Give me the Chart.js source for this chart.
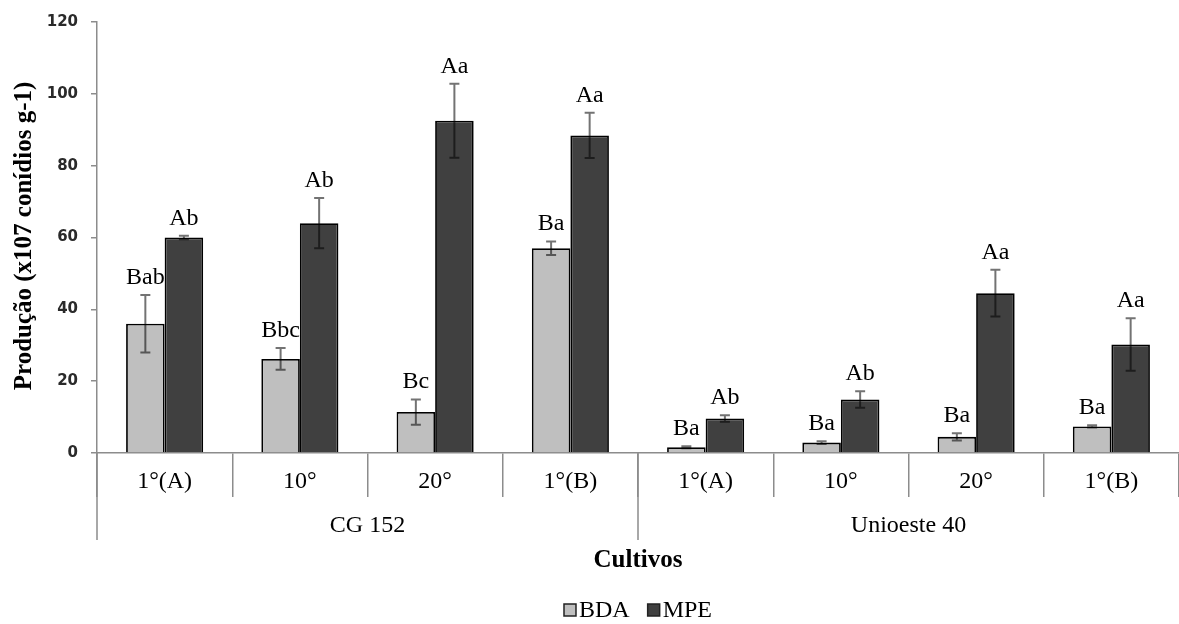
<!DOCTYPE html>
<html>
<head>
<meta charset="utf-8">
<script src="https://cdn.jsdelivr.net/npm/chart.js@4.4.1/dist/chart.umd.min.js"></script>
<style>
  html, body { margin: 0; padding: 0; background: #fff; }
  #wrap { width: 1179px; height: 624px; }
</style>
</head>
<body>
<div id="wrap"><canvas id="c" width="1179" height="624"></canvas></div>
<script>
// Conidia production per culture passage, two isolates, two media
const categories = ['1°(A)', '10°', '20°', '1°(B)', '1°(A)', '10°', '20°', '1°(B)'];
const groups = ['CG 152', 'Unioeste 40'];
const groupSize = 4;

const bda = [36, 26.2, 11.4, 57, 1.6, 2.9, 4.5, 7.4];
const bdaErr = [8, 3, 3.5, 1.9, 0.3, 0.4, 1, 0.3];
const bdaLetters = ['Bab', 'Bbc', 'Bc', 'Ba', 'Ba', 'Ba', 'Ba', 'Ba'];

const mpe = [60, 64, 92.5, 88.4, 9.6, 14.9, 44.5, 30.2];
const mpeErr = [0.5, 7, 10.3, 6.3, 0.9, 2.3, 6.5, 7.3];
const mpeLetters = ['Ab', 'Ab', 'Aa', 'Aa', 'Ab', 'Ab', 'Aa', 'Aa'];

const yTicks = { min: 0, max: 120, step: 20 };

const serif = '"Liberation Serif", "Times New Roman", serif';
const axisGray = '#8c8c8c';

const seriesInfo = [
  { name: 'BDA', values: bda, errs: bdaErr, letters: bdaLetters, color: '#bfbfbf' },
  { name: 'MPE', values: mpe, errs: mpeErr, letters: mpeLetters, color: '#404040' }
];

const decorations = {
  id: 'decorations',
  afterDatasetsDraw(chart) {
    const ctx = chart.ctx;
    const ys = chart.scales.y;
    seriesInfo.forEach((s, di) => {
      const meta = chart.getDatasetMeta(di);
      meta.data.forEach((bar, i) => {
        const x = bar.x;
        const yTop = ys.getPixelForValue(s.values[i] + s.errs[i]);
        const yBot = ys.getPixelForValue(s.values[i] - s.errs[i]);
        ctx.save();
        // error bar
        ctx.strokeStyle = 'rgba(0,0,0,0.55)';
        ctx.lineWidth = 2;
        ctx.beginPath();
        ctx.moveTo(x, yTop); ctx.lineTo(x, yBot);
        ctx.moveTo(x - 5, yTop); ctx.lineTo(x + 5, yTop);
        ctx.moveTo(x - 5, yBot); ctx.lineTo(x + 5, yBot);
        ctx.stroke();
        // significance letters
        ctx.fillStyle = '#000';
        ctx.font = '24px ' + serif;
        ctx.textAlign = 'center';
        ctx.textBaseline = 'alphabetic';
        ctx.fillText(s.letters[i], x, yTop - 11);
        ctx.restore();
      });
    });
  },
  afterDraw(chart) {
    const ctx = chart.ctx;
    const area = chart.chartArea;
    const xs = chart.scales.x;
    const bottom = area.bottom;
    ctx.save();

    // group separators and group labels
    const edges = [area.left];
    for (let g = 1; g < groups.length; g++) {
      edges.push((xs.getPixelForTick(g * groupSize - 1) + xs.getPixelForTick(g * groupSize)) / 2);
    }
    edges.push(area.right);
    ctx.strokeStyle = axisGray;
    ctx.lineWidth = 1.5;
    ctx.beginPath();
    for (let g = 0; g < groups.length; g++) {
      ctx.moveTo(edges[g], bottom);
      ctx.lineTo(edges[g], bottom + 87);
    }
    ctx.stroke();

    ctx.fillStyle = '#000';
    ctx.font = '24px ' + serif;
    ctx.textAlign = 'center';
    ctx.textBaseline = 'middle';
    groups.forEach((g, i) => {
      ctx.fillText(g, (edges[i] + edges[i + 1]) / 2, bottom + 73);
    });

    // axis titles
    ctx.font = 'bold 25px ' + serif;
    ctx.fillText('Cultivos', (area.left + area.right) / 2, 561);
    ctx.save();
    ctx.translate(25, 236);
    ctx.rotate(-Math.PI / 2);
    ctx.fillText('Produção (x107 conídios g-1)', 0, 0);
    ctx.restore();

    // legend
    ctx.font = '24px ' + serif;
    ctx.textAlign = 'left';
    ctx.textBaseline = 'middle';
    const box = 12, gapText = 3, gapItem = 18;
    const widths = seriesInfo.map(s => box + gapText + ctx.measureText(s.name).width);
    const total = widths.reduce((a, b) => a + b, 0) + gapItem * (seriesInfo.length - 1);
    let lx = (area.left + area.right) / 2 - total / 2;
    const ly = 610;
    seriesInfo.forEach((s, i) => {
      ctx.fillStyle = s.color;
      ctx.fillRect(lx, ly - box / 2, box, box);
      ctx.strokeStyle = '#222';
      ctx.lineWidth = 1.5;
      ctx.strokeRect(lx, ly - box / 2, box, box);
      ctx.fillStyle = '#000';
      ctx.fillText(s.name, lx + box + gapText, ly + 1);
      lx += widths[i] + gapItem;
    });
    ctx.restore();
  }
};

new Chart(document.getElementById('c'), {
  type: 'bar',
  data: {
    labels: categories,
    datasets: seriesInfo.map(s => ({
      label: s.name,
      data: s.values,
      backgroundColor: s.color,
      borderColor: '#000',
      borderWidth: 1.8,
      categoryPercentage: 0.57,
      barPercentage: 1.0
    }))
  },
  options: {
    responsive: false,
    animation: false,
    layout: { padding: { top: 20, left: 0, right: 0, bottom: 0 } },
    plugins: { legend: { display: false }, tooltip: { enabled: false } },
    scales: {
      x: {
        grid: { offset: true, drawOnChartArea: false, tickLength: 44, color: axisGray, lineWidth: 1.5 },
        border: { color: axisGray, width: 1.5 },
        ticks: { font: { family: serif, size: 24 }, color: '#000', padding: -30, maxRotation: 0, autoSkip: false },
        afterFit(scale) { scale.height = 171; }
      },
      y: {
        min: yTicks.min,
        max: yTicks.max,
        ticks: { stepSize: yTicks.step, font: { family: '"DejaVu Sans", sans-serif', size: 15, weight: 'bold' }, color: '#2a2a2a', padding: 13 },
        grid: { drawOnChartArea: false, tickLength: 6, color: axisGray, lineWidth: 1.5 },
        border: { color: axisGray, width: 1.5 },
        afterFit(scale) { scale.width = 97; }
      }
    }
  },
  plugins: [decorations]
});
</script>
</body>
</html>
